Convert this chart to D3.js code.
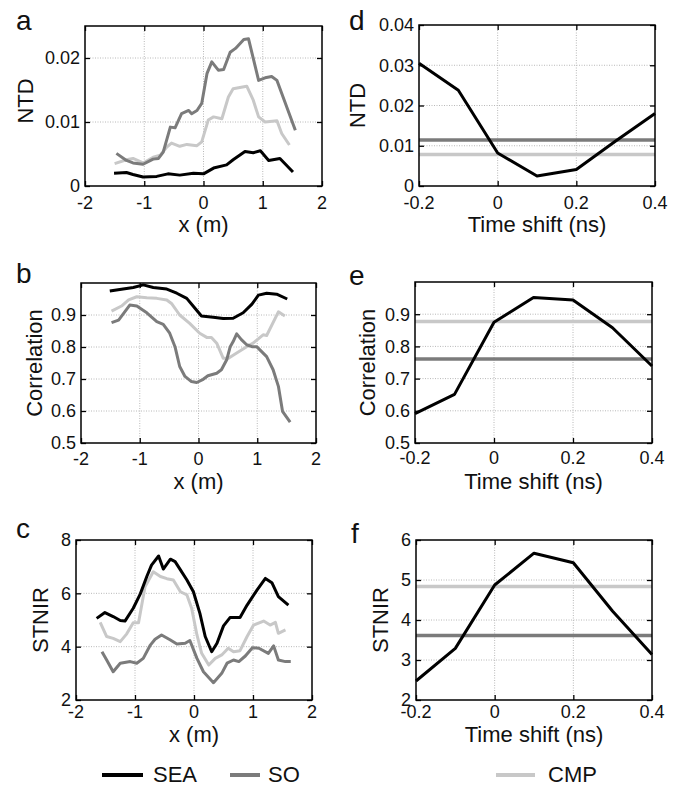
<!DOCTYPE html>
<html><head><meta charset="utf-8">
<script src="https://cdn.jsdelivr.net/npm/d3@7"></script>
<style>body{margin:0;background:#fff}svg{display:block}text{font-family:"Liberation Sans",Arial,Helvetica,sans-serif;fill:#111}</style>
</head><body><svg id="c" width="679" height="787"></svg>
<script>
// ---------- DATA ----------
const seriesNames = ["SEA", "SO", "CMP"];
const xTicksPos = [-2, -1, 0, 1, 2];
const xTicksShift = [-0.2, 0, 0.2, 0.4];
const timeShift = [-0.2, -0.1, 0, 0.1, 0.2, 0.3, 0.4];

// panel a: NTD vs x (m)
const ntdSEA = [[-1.51,0.0020],[-1.30,0.0021],[-1.19,0.0018],[-1.02,0.0014],[-0.79,0.0015],[-0.60,0.0019],[-0.40,0.0017],[-0.17,0.0020],[0,0.0019],[0.17,0.0028],[0.39,0.0033],[0.50,0.0041],[0.70,0.0054],[0.84,0.0052],[0.96,0.0055],[1.10,0.0040],[1.29,0.0043],[1.51,0.0022]];
const ntdSO = [[-1.47,0.0051],[-1.30,0.0040],[-1.19,0.0036],[-1.02,0.0034],[-0.85,0.0042],[-0.76,0.0043],[-0.68,0.0053],[-0.56,0.0092],[-0.48,0.0091],[-0.37,0.0113],[-0.25,0.0118],[-0.20,0.0113],[-0.11,0.0118],[-0.03,0.0129],[0.06,0.0176],[0.14,0.0194],[0.25,0.0181],[0.34,0.0182],[0.45,0.0209],[0.54,0.0215],[0.68,0.0229],[0.76,0.0230],[0.93,0.0165],[1.04,0.0169],[1.15,0.0171],[1.24,0.0165],[1.55,0.0087]];
const ntdCMP = [[-1.50,0.0035],[-1.30,0.0041],[-1.19,0.0043],[-1.02,0.0036],[-0.85,0.0045],[-0.73,0.0048],[-0.62,0.0061],[-0.54,0.0067],[-0.40,0.0062],[-0.28,0.0065],[-0.11,0.0063],[-0.03,0.0069],[0.08,0.0103],[0.17,0.0108],[0.31,0.0105],[0.42,0.0139],[0.50,0.0152],[0.73,0.0156],[0.84,0.0134],[0.93,0.0108],[1.04,0.0100],[1.24,0.0102],[1.32,0.0082],[1.45,0.0064]];

// panel b: Correlation vs x (m)
const corSEA = [[-1.51,0.975],[-1.34,0.980],[-1.11,0.986],[-0.94,0.994],[-0.77,0.986],[-0.54,0.981],[-0.37,0.968],[-0.20,0.952],[-0.06,0.921],[0.05,0.897],[0.25,0.893],[0.42,0.889],[0.59,0.890],[0.76,0.907],[0.91,0.934],[1.02,0.962],[1.16,0.968],[1.33,0.965],[1.51,0.950]];
const corSO = [[-1.48,0.876],[-1.36,0.884],[-1.17,0.931],[-1.05,0.928],[-0.88,0.907],[-0.71,0.879],[-0.60,0.871],[-0.49,0.843],[-0.40,0.801],[-0.32,0.739],[-0.23,0.708],[-0.12,0.692],[-0.03,0.689],[0.08,0.699],[0.16,0.710],[0.31,0.718],[0.39,0.729],[0.48,0.760],[0.54,0.801],[0.59,0.817],[0.65,0.841],[0.73,0.823],[0.82,0.807],[0.91,0.801],[0.99,0.801],[1.16,0.770],[1.27,0.729],[1.36,0.677],[1.43,0.599],[1.56,0.565]];
const corCMP = [[-1.48,0.912],[-1.31,0.928],[-1.19,0.947],[-1.05,0.957],[-0.88,0.954],[-0.71,0.952],[-0.54,0.947],[-0.46,0.936],[-0.32,0.900],[-0.15,0.874],[0.02,0.843],[0.14,0.830],[0.22,0.830],[0.31,0.812],[0.42,0.765],[0.51,0.765],[0.65,0.781],[0.82,0.801],[0.93,0.812],[1.10,0.838],[1.16,0.836],[1.36,0.910],[1.47,0.897]];

// panel c: STNIR vs x (m)
const stSEA = [[-1.65,5.06],[-1.51,5.28],[-1.37,5.13],[-1.25,4.98],[-1.17,4.96],[-1.03,5.44],[-0.91,5.98],[-0.80,6.63],[-0.72,7.06],[-0.60,7.40],[-0.52,6.91],[-0.40,7.28],[-0.32,7.19],[-0.23,6.88],[-0.12,6.50],[-0.01,6.06],[0.10,5.25],[0.19,4.38],[0.30,3.81],[0.39,4.13],[0.50,4.78],[0.61,5.09],[0.78,5.09],[0.90,5.56],[1.07,6.13],[1.21,6.56],[1.32,6.40],[1.43,5.88],[1.60,5.56]];
const stSO = [[-1.56,3.81],[-1.48,3.50],[-1.37,3.06],[-1.25,3.38],[-1.08,3.44],[-0.97,3.38],[-0.86,3.56],[-0.74,4.06],[-0.66,4.28],[-0.55,4.44],[-0.40,4.25],[-0.29,4.10],[-0.15,4.13],[-0.07,4.23],[0.05,3.56],[0.16,3.06],[0.33,2.65],[0.47,3.00],[0.56,3.38],[0.67,3.50],[0.76,3.44],[0.87,3.65],[0.99,3.96],[1.10,3.94],[1.26,3.75],[1.35,4.03],[1.43,3.50],[1.55,3.44],[1.64,3.44]];
const stCMP = [[-1.59,4.91],[-1.48,4.38],[-1.37,4.31],[-1.25,4.19],[-1.14,4.48],[-1.03,4.90],[-0.94,4.90],[-0.83,6.25],[-0.69,6.81],[-0.57,6.63],[-0.46,6.55],[-0.35,6.50],[-0.23,6.06],[-0.12,5.94],[-0.04,5.44],[0.05,4.44],[0.13,3.75],[0.25,3.31],[0.36,3.56],[0.47,3.69],[0.58,3.94],[0.67,3.81],[0.78,3.85],[0.90,4.38],[1.01,4.81],[1.18,4.96],[1.29,4.81],[1.38,4.91],[1.43,4.50],[1.55,4.63]];

// panels d-f: SEA vs time shift, SO and CMP as constants
const ntdShiftSEA = [0.0305, 0.0238, 0.0082, 0.0025, 0.0041, 0.0112, 0.0180];
const corShiftSEA = [0.591, 0.651, 0.875, 0.952, 0.944, 0.858, 0.739];
const stShiftSEA  = [2.475, 3.29, 4.875, 5.67, 5.43, 4.22, 3.14];
const ntdRef = {SO: 0.0114, CMP: 0.0078};
const corRef = {SO: 0.761, CMP: 0.877};
const stRef  = {SO: 3.61, CMP: 4.84};

const ntdTicksA = [0, 0.01, 0.02];
const ntdTicksD = [0, 0.01, 0.02, 0.03, 0.04];
const corTicks = [0.5, 0.6, 0.7, 0.8, 0.9];
const stTicksC = [2, 4, 6, 8];
const stTicksF = [2, 3, 4, 5, 6];

// ---------- STYLE ----------
const colors = {SEA: "#000000", SO: "#7b7b7b", CMP: "#c8c8c8"};
const svg = d3.select("#c");

function panel(p) {
  const x = d3.scaleLinear().domain(p.xdom).range([p.L, p.R]);
  const y = d3.scaleLinear().domain(p.ydom).range([p.B, p.T]);
  const g = svg.append("g");
  // grid
  g.append("g").selectAll("line").data(p.xticks.filter(v => v > p.xdom[0] && v < p.xdom[1])).join("line")
    .attr("x1", d => x(d)).attr("x2", d => x(d)).attr("y1", p.T).attr("y2", p.B)
    .attr("stroke", "#b8b8b8").attr("stroke-width", 1).attr("stroke-dasharray", "1,1.5");
  g.append("g").selectAll("line").data(p.yticks.filter(v => v > p.ydom[0] && v < p.ydom[1])).join("line")
    .attr("y1", d => y(d)).attr("y2", d => y(d)).attr("x1", p.L).attr("x2", p.R)
    .attr("stroke", "#b8b8b8").attr("stroke-width", 1).attr("stroke-dasharray", "1,1.5");
  // reference lines
  if (p.refs) {
    ["CMP", "SO"].forEach(k => {
      g.append("line").attr("x1", p.L).attr("x2", p.R).attr("y1", y(p.refs[k])).attr("y2", y(p.refs[k]))
        .attr("stroke", colors[k]).attr("stroke-width", 3.5);
    });
  }
  // series
  const line = d3.line().x(d => x(d[0])).y(d => y(d[1]));
  p.series.forEach(s => {
    g.append("path").datum(s.data).attr("d", line).attr("fill", "none")
      .attr("stroke", colors[s.name]).attr("stroke-width", 3).attr("stroke-linejoin", "round").attr("stroke-linecap", "butt");
  });
  // axes with inward ticks
  const fmt = d => String(d);
  const ax = [
    [d3.axisBottom(x).tickValues(p.xticks).tickSize(-5).tickFormat(""), `translate(0,${p.B})`],
    [d3.axisTop(x).tickValues(p.xticks).tickSize(-5).tickFormat(""), `translate(0,${p.T})`],
    [d3.axisLeft(y).tickValues(p.yticks).tickSize(-5).tickFormat(""), `translate(${p.L},0)`],
    [d3.axisRight(y).tickValues(p.yticks).tickSize(-5).tickFormat(""), `translate(${p.R},0)`]
  ];
  ax.forEach(([a, t]) => {
    const ag = g.append("g").attr("transform", t).call(a);
    ag.select(".domain").remove();
    ag.selectAll("line").attr("stroke", "#000").attr("stroke-width", 1.3);
  });
  g.append("rect").attr("x", p.L).attr("y", p.T).attr("width", p.R - p.L).attr("height", p.B - p.T)
    .attr("fill", "none").attr("stroke", "#000").attr("stroke-width", 1.5);
  // tick labels
  g.append("g").selectAll("text").data(p.xticks).join("text")
    .attr("x", d => x(d)).attr("y", p.B + p.xtOff).attr("text-anchor", "middle")
    .attr("font-size", 18).text(fmt);
  g.append("g").selectAll("text").data(p.yticks).join("text")
    .attr("x", p.L - 5).attr("y", d => y(d)).attr("dy", "0.35em").attr("text-anchor", "end")
    .attr("font-size", 18).text(fmt);
  // titles
  g.append("text").attr("x", (p.L + p.R) / 2).attr("y", p.B + p.xTitleOff).attr("text-anchor", "middle")
    .attr("font-size", 22).text(p.xlabel);
  g.append("text").attr("transform", `translate(${p.yTitleX},${(p.T + p.B) / 2 + p.yTitleDy}) rotate(-90)`)
    .attr("text-anchor", "middle").attr("font-size", 22).text(p.ylabel);
  g.append("text").attr("x", p.lx).attr("y", p.ly).attr("font-size", 28).text(p.letter);
}

const xl = "x (m)", tl = "Time shift (ns)";
const zipShift = vals => timeShift.map((t, i) => [t, vals[i]]);

panel({letter:"a", lx:16, ly:30, L:85, R:322, T:26, B:186, xdom:[-2,2], xticks:xTicksPos, ydom:[0,0.025], yticks:ntdTicksA,
  xlabel:xl, ylabel:"NTD", yTitleX:33, yTitleDy:-5, xtOff:23, xTitleOff:46,
  series:[{name:"CMP", data:ntdCMP},{name:"SO", data:ntdSO},{name:"SEA", data:ntdSEA}]});
panel({letter:"d", lx:349, ly:30, L:419, R:655, T:25, B:186, xdom:[-0.2,0.4], xticks:xTicksShift, ydom:[0,0.04], yticks:ntdTicksD,
  xlabel:tl, ylabel:"NTD", yTitleX:365, yTitleDy:0, xtOff:23, xTitleOff:46, refs:ntdRef,
  series:[{name:"SEA", data:zipShift(ntdShiftSEA)}]});
panel({letter:"b", lx:16, ly:283, L:81, R:316, T:283, B:443, xdom:[-2,2], xticks:xTicksPos, ydom:[0.5,1.0], yticks:corTicks,
  xlabel:xl, ylabel:"Correlation", yTitleX:42, yTitleDy:0, xtOff:22, xTitleOff:46,
  series:[{name:"CMP", data:corCMP},{name:"SO", data:corSO},{name:"SEA", data:corSEA}]});
panel({letter:"e", lx:349, ly:285, L:415, R:652, T:282, B:443, xdom:[-0.2,0.4], xticks:xTicksShift, ydom:[0.5,1.0], yticks:corTicks,
  xlabel:tl, ylabel:"Correlation", yTitleX:375, yTitleDy:0, xtOff:21, xTitleOff:46, refs:corRef,
  series:[{name:"SEA", data:zipShift(corShiftSEA)}]});
panel({letter:"c", lx:16, ly:538, L:76, R:312, T:540, B:700, xdom:[-2,2], xticks:xTicksPos, ydom:[2,8], yticks:stTicksC,
  xlabel:xl, ylabel:"STNIR", yTitleX:48, yTitleDy:0, xtOff:18, xTitleOff:42,
  series:[{name:"CMP", data:stCMP},{name:"SO", data:stSO},{name:"SEA", data:stSEA}]});
panel({letter:"f", lx:351, ly:543, L:416, R:652, T:540, B:700, xdom:[-0.2,0.4], xticks:xTicksShift, ydom:[2,6], yticks:stTicksF,
  xlabel:tl, ylabel:"STNIR", yTitleX:388, yTitleDy:0, xtOff:18, xTitleOff:42, refs:stRef,
  series:[{name:"SEA", data:zipShift(stShiftSEA)}]});

// legend
const legendPos = [{x1:102, x2:143, tx:153}, {x1:230, x2:260, tx:268}, {x1:496, x2:535, tx:548}];
const lg = svg.append("g");
seriesNames.forEach((n, i) => {
  const p = legendPos[i];
  lg.append("line").attr("x1", p.x1).attr("x2", p.x2).attr("y1", 775).attr("y2", 775)
    .attr("stroke", colors[n]).attr("stroke-width", 4);
  lg.append("text").attr("x", p.tx).attr("y", 782).attr("font-size", 22).text(n);
});
</script></body></html>
